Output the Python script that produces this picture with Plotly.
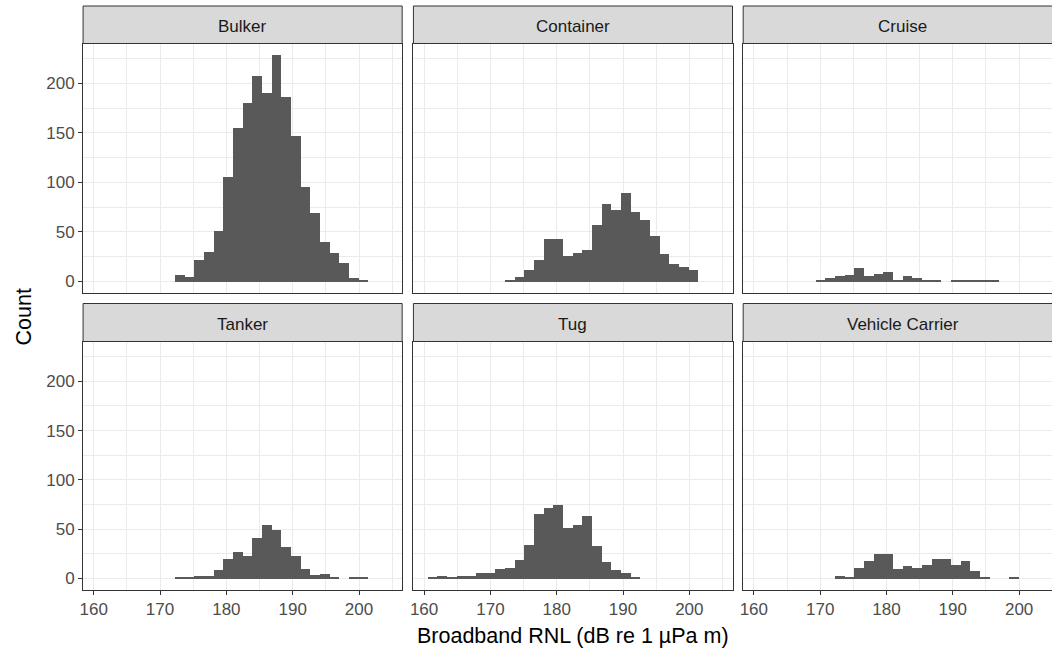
import plotly.graph_objects as go

# ---- data ----
categories = ["Bulker", "Container", "Cruise", "Tanker", "Tug", "Vehicle Carrier"]
bin_start = 160.58      # left edge of first histogram bin (dB)
bin_width = 1.458       # histogram bin width (dB)

bulker_first_bin = 8
bulker_counts = [7, 5, 22, 30, 51, 106, 155, 181, 208, 191, 229, 187, 147, 96, 69, 40, 29, 19, 4, 2]
container_first_bin = 8
container_counts = [2, 5, 12, 22, 43, 43, 26, 29, 32, 57, 79, 73, 90, 71, 62, 46, 28, 18, 15, 12]
cruise_first_bin = 6
cruise_counts = [1, 4, 6, 7, 14, 6, 8, 10, 1, 6, 4, 2, 1, 0, 2, 2, 1, 2, 1]
tanker_first_bin = 8
tanker_counts = [1, 1, 3, 3, 9, 20, 27, 23, 41, 55, 49, 32, 23, 10, 4, 5, 1, 0, 1, 1]
tug_first_bin = 0
tug_counts = [1, 3, 1, 3, 3, 6, 6, 10, 11, 19, 34, 66, 72, 75, 52, 55, 64, 33, 17, 9, 6, 1]
vehicle_first_bin = 8
vehicle_counts = [3, 1, 11, 18, 25, 25, 10, 13, 11, 14, 20, 20, 14, 18, 8, 1, 0, 0, 1]

series = [
    (bulker_first_bin, bulker_counts),
    (container_first_bin, container_counts),
    (cruise_first_bin, cruise_counts),
    (tanker_first_bin, tanker_counts),
    (tug_first_bin, tug_counts),
    (vehicle_first_bin, vehicle_counts),
]

x_ticks = [160, 170, 180, 190, 200]
x_minor = [165, 175, 185, 195, 205]
y_ticks = [0, 50, 100, 150, 200]
y_minor = [25, 75, 125, 175, 225]

x_title = "Broadband RNL (dB re 1 µPa m)"
y_title = "Count"

# ---- layout geometry (pixels) ----
W, H = 1052, 652
col_px = [(80.3, 400.3), (411.6, 731.6), (742.3, 1052.0)]
row_panel_px = [(43.5, 292.5), (341.5, 589.5)]
row_strip_px = [(6.0, 43.5), (303.5, 341.5)]
px_per_db = 320.0 / (33 * bin_width)
x_lo = bin_start - 1.5 * bin_width

FONT = "Liberation Sans, Arial, sans-serif"
GRID = "#EBEBEB"
DARK = "#333333"
TICK_SIZE = 17
STRIP_SIZE = 17
TITLE_SIZE = 21.5

def fx(p):
    return p / W

def fy(p):
    return 1 - p / H

ymax = max(max(c) for _, c in series)
y_range = [-0.05 * ymax, 1.05 * ymax]

fig = go.Figure()
layout = dict(
    width=W, height=H,
    margin=dict(l=0, r=0, t=0, b=0),
    paper_bgcolor="white", plot_bgcolor="white",
    showlegend=False, bargap=0,
    font=dict(family=FONT, size=TICK_SIZE, color="#4D4D4D"),
)
shapes = []
annotations = []

for i, (name, (first, counts)) in enumerate(zip(categories, series)):
    r, c = divmod(i, 3)
    n = i + 1
    xa = "x" if n == 1 else f"x{n}"
    ya = "y" if n == 1 else f"y{n}"
    centers = [bin_start + bin_width * (first + k + 0.5) for k in range(len(counts))]
    fig.add_trace(go.Bar(
        x=centers, y=counts, width=bin_width,
        marker=dict(color="#595959", line=dict(width=0)),
        xaxis=xa, yaxis=ya, hoverinfo="x+y",
    ))
    x0p, x1p = col_px[c]
    y0p, y1p = row_panel_px[r]
    x_hi = x_lo + (x1p - x0p) / px_per_db
    bottom = (r == 1)
    left = (c == 0)
    layout["xaxis" if n == 1 else f"xaxis{n}"] = dict(
        domain=[fx(x0p), fx(x1p)], anchor=ya, range=[x_lo, x_hi],
        tickvals=x_ticks, showticklabels=bottom,
        ticks="outside" if bottom else "", ticklen=4, tickwidth=1, tickcolor=DARK,
        showgrid=True, gridcolor=GRID, gridwidth=1.1,
        minor=dict(tickvals=x_minor, showgrid=True, gridcolor=GRID, gridwidth=0.6),
        showline=True, linecolor=DARK, linewidth=1, mirror=True,
        zeroline=False, fixedrange=True,
        tickfont=dict(family=FONT, size=TICK_SIZE, color="#4D4D4D"),
    )
    layout["yaxis" if n == 1 else f"yaxis{n}"] = dict(
        domain=[fy(y1p), fy(y0p)], anchor=xa, range=y_range,
        tickvals=y_ticks, showticklabels=left,
        ticks="outside" if left else "", ticklen=4, tickwidth=1, tickcolor=DARK,
        showgrid=True, gridcolor=GRID, gridwidth=1.1,
        minor=dict(tickvals=y_minor, showgrid=True, gridcolor=GRID, gridwidth=0.6),
        showline=True, linecolor=DARK, linewidth=1, mirror=(c != 2),
        zeroline=False, fixedrange=True,
        tickfont=dict(family=FONT, size=TICK_SIZE, color="#4D4D4D"),
    )
    # strip
    s0, s1 = row_strip_px[r]
    shapes.append(dict(
        type="rect", xref="paper", yref="paper",
        x0=fx(x0p), x1=fx(x1p if c != 2 else 1066), y0=fy(s1), y1=fy(s0),
        fillcolor="#D9D9D9", line=dict(color=DARK, width=1), layer="above",
    ))
    annotations.append(dict(
        text=name, xref="paper", yref="paper",
        x=fx((x0p + (x0p + 320.0)) / 2), y=fy((s0 + s1) / 2 + 1.5),
        xanchor="center", yanchor="middle", showarrow=False,
        font=dict(family=FONT, size=STRIP_SIZE, color="#1A1A1A"),
    ))

annotations.append(dict(
    text=x_title, xref="paper", yref="paper",
    x=fx((80.3 + 1062.3) / 2), y=fy(636), xanchor="center", yanchor="middle",
    showarrow=False, font=dict(family=FONT, size=TITLE_SIZE, color="black"),
))
annotations.append(dict(
    text=y_title, xref="paper", yref="paper",
    x=fx(21), y=fy(316.5), xanchor="center", yanchor="middle", textangle=-90,
    showarrow=False, font=dict(family=FONT, size=TITLE_SIZE, color="black"),
))

layout["shapes"] = shapes
layout["annotations"] = annotations
fig.update_layout(**layout)

fig.write_html(
    "out.html",
    config={"displayModeBar": False},
    post_script="document.body.style.margin='0';document.body.style.overflow='hidden';",
)
